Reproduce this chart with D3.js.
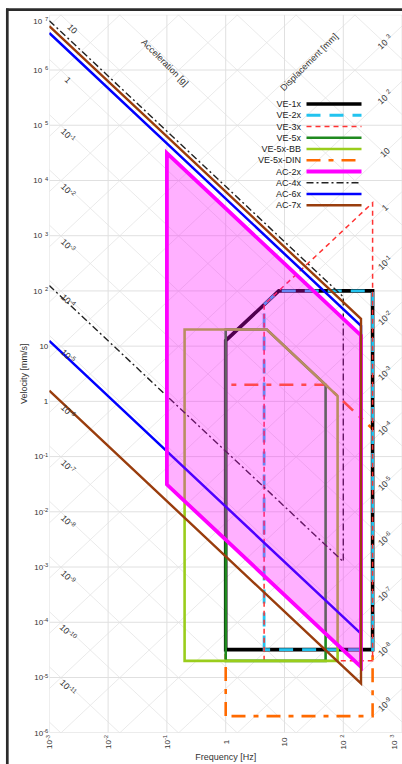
<!DOCTYPE html>
<html>
<head>
<meta charset="utf-8">
<script src="https://cdn.jsdelivr.net/npm/d3@7"></script>
<style>
  html, body { margin: 0; padding: 0; background: #fff; overflow: hidden; }
  svg { display: block; font-family: "Liberation Sans", Arial, Helvetica, sans-serif; }
</style>
</head>
<body>
<svg id="chart" width="402" height="764"></svg>
<script>
// Vibration criteria chart: velocity [mm/s] against frequency [Hz] on log-log axes,
// with constant-acceleration [g] and constant-displacement [mm] guide lines.

// ---- data -------------------------------------------------------------
const seriesNames = ["VE-1x", "VE-2x", "VE-3x", "VE-5x", "VE-5x-BB", "VE-5x-DIN",
                     "AC-2x", "AC-4x", "AC-6x", "AC-7x"];

// corner points of each envelope: frequency [Hz], velocity [mm/s]
const ve1xFreq    = [1, 1, 8, 315, 315];
const ve1xVel     = [3.2e-5, 12.6, 100, 100, 3.2e-5];
const ve2xFreq    = [4.5, 4.5, 8, 315, 315];
const ve2xVel     = [3.2e-5, 56.5, 100, 100, 3.2e-5];
const ve3xFreq    = [4.5, 4.5, 315, 315];
const ve3xVel     = [2e-5, 56.5, 3950, 2e-5];
const ve5xFreq    = [1, 1, 5, 50, 50];
const ve5xVel     = [2e-5, 20, 20, 2, 2e-5];
const ve5xBBFreq  = [0.2, 0.2, 5, 80, 80];
const ve5xBBVel   = [2e-5, 20, 20, 1.25, 2e-5];
const ve5xDINFreq = [1, 1, 50, 315, 315];
const ve5xDINVel  = [2e-6, 2, 2, 0.317, 2e-6];
const ac2xFreq    = [0.1, 200, 200, 0.1];
const ac2xVel     = [31200, 15.6, 1.56e-5, 0.0312];
const ac4xFreq    = [0.001, 100, 100, 0.001];
const ac4xVel     = [7.8e6, 78, 1.25e-3, 125];
const ac6xFreq    = [0.001, 200, 200, 0.001];
const ac6xVel     = [4.68e6, 23.4, 6.2e-5, 12.5];
const ac7xFreq    = [0.001, 200, 200, 0.001];
const ac7xVel     = [6.25e6, 31.2, 7.8e-6, 1.56];

// axis ticks (decade exponents)
const freqTickExp  = [-3, -2, -1, 0, 1, 2, 3];
const velTickExp   = [-6, -5, -4, -3, -2, -1, 0, 1, 2, 3, 4, 5, 6, 7];
// labelled guide lines (decade exponents)
const accelLabelExp = [1, 0, -1, -2, -3, -4, -5, -6, -7, -8, -9, -10, -11];   // g
const dispLabelExp  = [3, 2, 1, 0, -1, -2, -3, -4, -5, -6, -7, -8, -9];       // mm

// ---- styles -----------------------------------------------------------
const styles = {
  "VE-1x":     { f: ve1xFreq,    v: ve1xVel,    closed: true,  color: "#000000", width: 3.6, dash: null },
  "VE-2x":     { f: ve2xFreq,    v: ve2xVel,    closed: true,  color: "#22c3ef", width: 2.8, dash: "14,9" },
  "VE-3x":     { f: ve3xFreq,    v: ve3xVel,    closed: true,  color: "#ff3333", width: 1.5, dash: "5,4" },
  "VE-5x":     { f: ve5xFreq,    v: ve5xVel,    closed: true,  color: "#1f8a1f", width: 2.6, dash: null },
  "VE-5x-BB":  { f: ve5xBBFreq,  v: ve5xBBVel,  closed: true,  color: "#9acd1c", width: 2.6, dash: null },
  "VE-5x-DIN": { f: ve5xDINFreq, v: ve5xDINVel, closed: true,  color: "#ff6a00", width: 2.6, dash: "14,8,5,8" },
  "AC-2x":     { f: ac2xFreq,    v: ac2xVel,    closed: true,  color: "#ff00ff", width: 3.8, dash: null, fill: "rgba(255,0,255,0.31)" },
  "AC-4x":     { f: ac4xFreq,    v: ac4xVel,    closed: false, color: "#222222", width: 1.4, dash: "7,3,2,3" },
  "AC-6x":     { f: ac6xFreq,    v: ac6xVel,    closed: false, color: "#0000ff", width: 2.5, dash: null },
  "AC-7x":     { f: ac7xFreq,    v: ac7xVel,    closed: false, color: "#993d0d", width: 2.4, dash: null }
};
// painting order (the translucent AC-2x band tints what lies beneath it)
const drawOrder = ["VE-5x-DIN", "VE-1x", "VE-2x", "VE-3x", "VE-5x", "VE-5x-BB",
                   "AC-4x", "AC-6x", "AC-2x", "AC-7x"];

// ---- layout -----------------------------------------------------------
const W = 402, H = 764;
const plot = { left: 49.3, right: 402.1, top: 14.8, bottom: 732.7 };
const G = 9810;                 // mm/s^2 per g
const TWO_PI = 2 * Math.PI;
const tickFont = 8, guideFont = 8.8, titleFont = 9;

const svg = d3.select("#chart");
const x = d3.scaleLog().domain([1e-3, 1e3]).range([plot.left, plot.right]);
const y = d3.scaleLog().domain([1e-6, 1e7]).range([plot.bottom, plot.top]);

svg.append("rect").attr("width", W).attr("height", H).attr("fill", "#fff");

svg.append("clipPath").attr("id", "plot-clip")
  .append("rect")
  .attr("x", plot.left).attr("y", plot.top)
  .attr("width", plot.right - plot.left).attr("height", plot.bottom - plot.top);

const grid = svg.append("g").attr("clip-path", "url(#plot-clip)");
const line = d3.line().x(d => x(d[0])).y(d => y(d[1]));
const fDomain = x.domain();

// diagonal guides: constant acceleration and constant displacement
const accelVel = (a, f) => a * G / (TWO_PI * f);
const dispVel  = (d, f) => TWO_PI * f * d;
d3.range(-15, 8).forEach(k => {
  const a = Math.pow(10, k);
  grid.append("path")
    .attr("d", line(fDomain.map(f => [f, accelVel(a, f)])))
    .attr("fill", "none").attr("stroke", "#e4e4e4").attr("stroke-width", 0.8);
});
d3.range(-13, 11).forEach(k => {
  const d = Math.pow(10, k);
  grid.append("path")
    .attr("d", line(fDomain.map(f => [f, dispVel(d, f)])))
    .attr("fill", "none").attr("stroke", "#e4e4e4").attr("stroke-width", 0.8);
});

// decade grid
grid.selectAll(".vgrid").data(freqTickExp).join("line")
  .attr("x1", e => x(Math.pow(10, e))).attr("x2", e => x(Math.pow(10, e)))
  .attr("y1", plot.top).attr("y2", plot.bottom)
  .attr("stroke", "#e0e0e0").attr("stroke-width", 1);
grid.selectAll(".hgrid").data(velTickExp).join("line")
  .attr("y1", e => y(Math.pow(10, e))).attr("y2", e => y(Math.pow(10, e)))
  .attr("x1", plot.left).attr("x2", plot.right)
  .attr("stroke", "#e0e0e0").attr("stroke-width", 1);

// series
const marks = svg.append("g").attr("clip-path", "url(#plot-clip)");
drawOrder.forEach(name => {
  const s = styles[name];
  const pts = s.f.map((f, i) => [f, s.v[i]]);
  marks.append("path")
    .attr("d", line(pts) + (s.closed ? "Z" : ""))
    .attr("fill", s.fill || "none")
    .attr("stroke", s.color)
    .attr("stroke-width", s.width)
    .attr("stroke-dasharray", s.dash)
    .attr("stroke-linejoin", "miter");
});

// power-of-ten label with superscript exponent
function powLabel(text, exp) {
  if (exp === 0) { text.text("1"); return; }
  if (exp === 1) { text.text("10"); return; }
  text.append("tspan").text("10");
  text.append("tspan")
    .attr("dy", "-0.45em").attr("font-size", "0.72em")
    .text((exp > 0 ? "\u2002" : "") + exp);
}

const labelColor = "#333";

// acceleration guide labels along the left side
const accelAngle = Math.atan((y(1) - y(10)) / (x(10) - x(1))) * 180 / Math.PI;
const accelLabelX = 68;
accelLabelExp.forEach(e => {
  const a = Math.pow(10, e);
  let px = accelLabelX;
  let py = y(accelVel(a, x.invert(px))) + 3;
  const minY = plot.top + 14;
  if (py < minY) {                      // slide down the line to stay inside
    px += (minY - py) * (x(10) - x(1)) / (y(1) - y(10));
    py = minY;
  }
  const t = svg.append("text")
    .attr("transform", `translate(${px},${py}) rotate(${accelAngle})`)
    .attr("text-anchor", "middle").attr("dy", "0.35em")
    .attr("font-size", guideFont).attr("fill", labelColor);
  powLabel(t, e);
});

// displacement guide labels along the right side
const dispLabelX = 385;
dispLabelExp.forEach(e => {
  const d = Math.pow(10, e);
  const py = y(dispVel(d, x.invert(dispLabelX)));
  const t = svg.append("text")
    .attr("transform", `translate(${dispLabelX},${py}) rotate(${-accelAngle})`)
    .attr("text-anchor", "middle").attr("dy", "0.35em")
    .attr("font-size", guideFont).attr("fill", labelColor);
  powLabel(t, e);
});

// guide titles
svg.append("text")
  .attr("transform", `translate(165,62.5) rotate(45)`)
  .attr("text-anchor", "middle").attr("dy", "0.35em")
  .attr("font-size", titleFont).attr("fill", labelColor)
  .text("Acceleration [g]");
svg.append("text")
  .attr("transform", `translate(309,62) rotate(-45)`)
  .attr("text-anchor", "middle").attr("dy", "0.35em")
  .attr("font-size", titleFont).attr("fill", labelColor)
  .text("Displacement [mm]");

// y axis tick labels
velTickExp.forEach(e => {
  const py = Math.max(y(Math.pow(10, e)), plot.top + 6);
  const t = svg.append("text")
    .attr("x", plot.left - 1).attr("y", py)
    .attr("text-anchor", "end").attr("dy", "0.35em")
    .attr("font-size", tickFont).attr("fill", labelColor);
  powLabel(t, e);
});

// x axis tick labels (rotated)
freqTickExp.forEach(e => {
  const px = Math.min(x(Math.pow(10, e)), W - 8);
  const t = svg.append("text")
    .attr("transform", `translate(${px},742) rotate(-90)`)
    .attr("text-anchor", "middle").attr("dy", "0.35em")
    .attr("font-size", tickFont).attr("fill", labelColor);
  powLabel(t, e);
});

// axis titles
svg.append("text")
  .attr("x", (plot.left + plot.right) / 2).attr("y", 757).attr("dy", "0.35em")
  .attr("text-anchor", "middle").attr("font-size", titleFont).attr("fill", labelColor)
  .text("Frequency [Hz]");
svg.append("text")
  .attr("transform", `translate(23.5,${(plot.top + plot.bottom) / 2}) rotate(-90)`)
  .attr("text-anchor", "middle").attr("dy", "0.35em")
  .attr("font-size", titleFont).attr("fill", labelColor)
  .text("Velocity [mm/s]");

// legend
const legend = svg.append("g");
const legendY0 = 104, legendStep = 11.25;
seriesNames.forEach((name, i) => {
  const s = styles[name];
  const ly = legendY0 + i * legendStep;
  legend.append("text")
    .attr("x", 301).attr("y", ly).attr("dy", "0.35em")
    .attr("text-anchor", "end").attr("font-size", titleFont).attr("fill", "#222")
    .text(name);
  legend.append("line")
    .attr("x1", 306.5).attr("x2", 361.5).attr("y1", ly).attr("y2", ly)
    .attr("stroke", s.color).attr("stroke-width", s.width)
    .attr("stroke-dasharray", s.dash);
});

// outer frame (left and top edges)
svg.append("line").attr("x1", 7.3).attr("x2", 7.3).attr("y1", 8.4).attr("y2", H)
  .attr("stroke", "#2b2b2b").attr("stroke-width", 2.7);
svg.append("line").attr("x1", 6).attr("x2", W).attr("y1", 9.7).attr("y2", 9.7)
  .attr("stroke", "#2b2b2b").attr("stroke-width", 2.7);
</script>
</body>
</html>
